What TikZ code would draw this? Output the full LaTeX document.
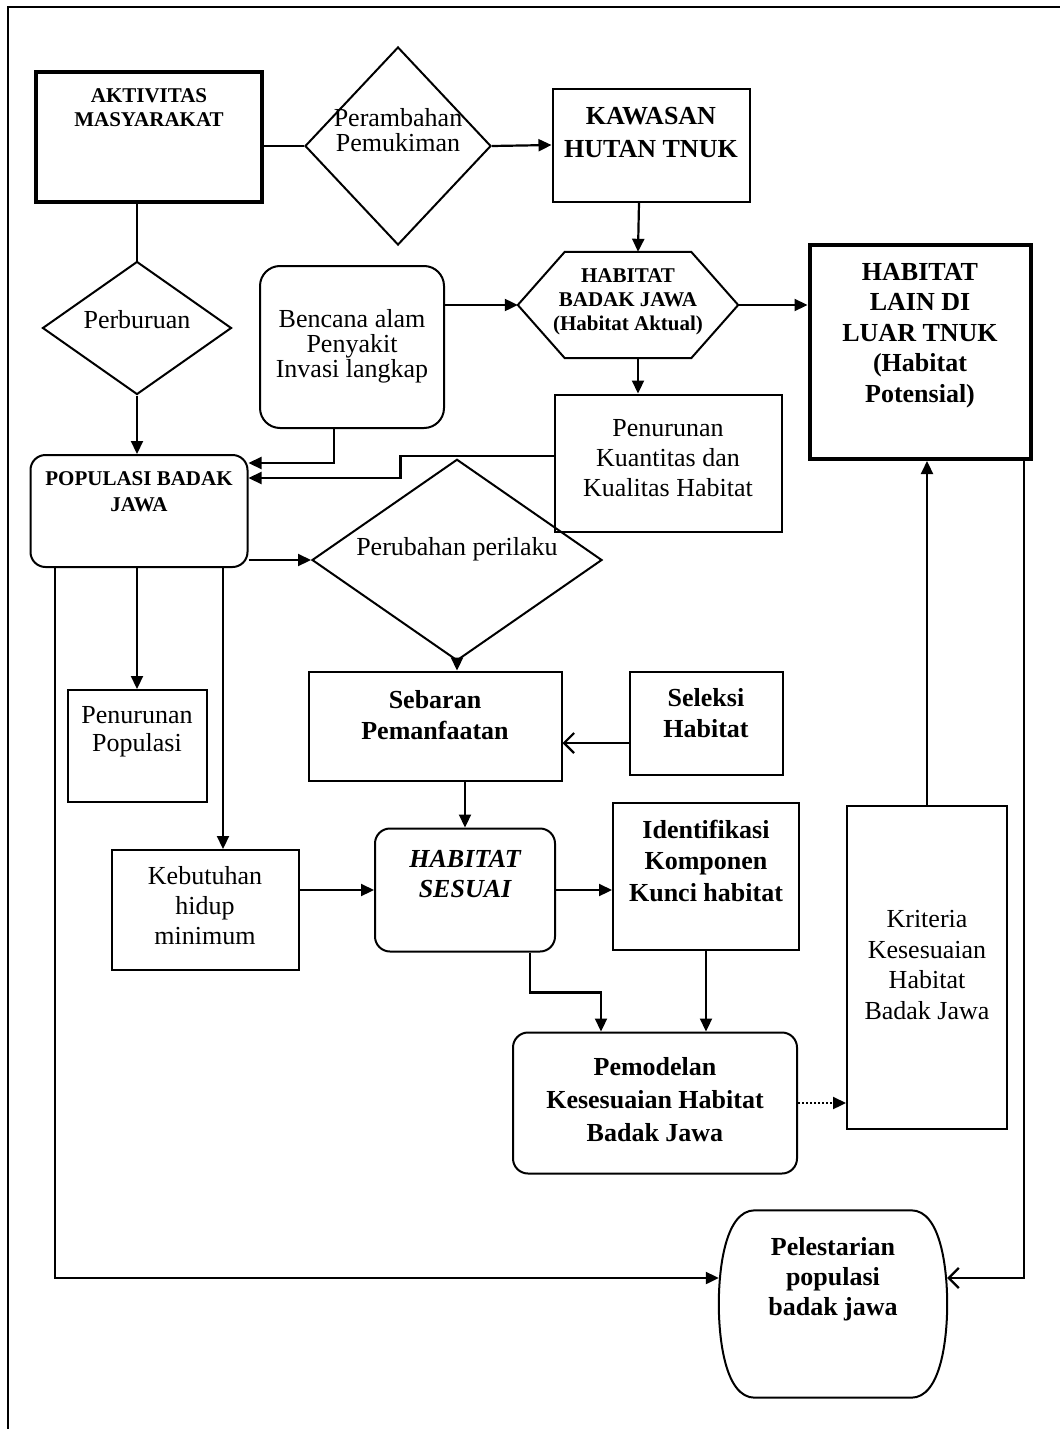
\documentclass[tikz,border=0pt]{standalone}
\usepackage{fontspec}
\setmainfont{Liberation Serif}
\usepackage{tikz}
\usetikzlibrary{shapes.geometric, arrows.meta}
\newcommand{\fs}[2]{\fontsize{#1}{#2}\selectfont}
\newcommand{\lns}[2]{\raisebox{\dimexpr #1-.25em\relax}[0pt][0pt]{\begin{tabular}{@{}c@{}}#2\end{tabular}}}
\tikzset{
  proc/.style={draw, rectangle, line width=2pt, inner sep=0pt, font=\fs{26}{30}},
  proc thick/.style={proc, line width=4pt},
  rproc/.style={proc, rounded corners=15pt},
  decision/.style={draw, diamond, line width=2pt, inner sep=0pt, font=\fs{26}{24}},
  plain/.style={rectangle, inner sep=0pt, font=\fs{26}{30}},
  garis/.style={line width=2.2pt},
  arr/.style={garis, -{Triangle[length=13pt,width=12pt]}},
  openarr/.style={garis, -{Straight Barb[length=10pt,width=20pt]}},
}
\begin{document}
\begin{tikzpicture}[x=1pt, y=-1pt]
\useasboundingbox (0,0) rectangle (1060,1429);
% frame
\draw[line width=2pt] (8,1429) -- (8,7) -- (1060,7);

% top row
\node[proc thick, minimum width=226pt, minimum height=130pt, font=\fs{21}{24}\bfseries] (aktiv) at (149,137) {\lns{27pt}{AKTIVITAS\\MASYARAKAT}};
\node[decision, minimum width=186pt, minimum height=198pt] (rambah) at (398,146) {\lns{13pt}{Perambahan\\Pemukiman}};
\node[proc, minimum width=197pt, minimum height=113pt, font=\fs{26}{33}\bfseries] (kawasan) at (651,145) {\lns{11pt}{KAWASAN\\HUTAN TNUK}};

% habitat aktual (hexagon)
\node[plain, minimum width=220pt, minimum height=106pt, font=\fs{21}{24}\bfseries] (aktual) at (628,305) {\lns{3pt}{HABITAT\\BADAK JAWA\\(Habitat Aktual)}};
\draw[line width=2pt] (aktual.west) -- ([xshift=47pt]aktual.north west) -- ([xshift=-47pt]aktual.north east)
  -- (aktual.east) -- ([xshift=-47pt]aktual.south east) -- ([xshift=47pt]aktual.south west) -- cycle;
\node[proc thick, minimum width=221pt, minimum height=214pt, font=\fs{26}{30.5}\bfseries] (potensial) at (920,352) {\lns{17pt}{HABITAT\\LAIN DI\\LUAR TNUK\\(Habitat\\Potensial)}};

\node[decision, minimum width=189pt, minimum height=133pt] (buru) at (137,328) {\lns{5pt}{Perburuan}};
\node[rproc, rounded corners=20pt, minimum width=184pt, minimum height=162pt, font=\fs{26}{24}] (bencana) at (352,347) {\lns{0pt}{Bencana alam\\Penyakit\\Invasi langkap}};
\node[proc, minimum width=227pt, minimum height=137pt] (kualitas) at (668,463) {\lns{3pt}{Penurunan\\Kuantitas dan\\Kualitas Habitat}};

% middle
\node[rproc, minimum width=217pt, minimum height=112pt, font=\fs{21}{26}\bfseries] (populasi) at (139,511) {\lns{18pt}{POPULASI BADAK\\JAWA}};
\node[decision, minimum width=290pt, minimum height=139pt] (perilaku) at (457,560) {\lns{10pt}{Perubahan perilaku}};
\node[proc, minimum width=253pt, minimum height=109pt, font=\fs{26}{31}\bfseries] (sebaran) at (435,726) {\lns{8pt}{Sebaran\\Pemanfaatan}};
\node[proc, minimum width=153pt, minimum height=103pt, font=\fs{26}{31}\bfseries] (seleksi) at (706,723) {\lns{7pt}{Seleksi\\Habitat}};
\node[proc, minimum width=139pt, minimum height=112pt, font=\fs{26}{28}] (penpop) at (137,746) {\lns{14pt}{Penurunan\\Populasi}};
\node[proc, minimum width=187pt, minimum height=120pt] (butuh) at (205,910) {\lns{2pt}{Kebutuhan\\hidup\\minimum}};
\node[rproc, minimum width=180pt, minimum height=123pt, font=\fs{26}{30}\bfseries\itshape] (sesuai) at (465,890) {\lns{14pt}{HABITAT\\SESUAI}};
\node[proc, minimum width=186pt, minimum height=147pt, font=\fs{26}{31.5}\bfseries] (kunci) at (706,876) {\lns{13pt}{Identifikasi\\Komponen\\Kunci habitat}};

% bottom
\node[rproc, minimum width=284pt, minimum height=141pt, font=\fs{26}{33}\bfseries] (model) at (655,1103) {\lns{1pt}{Pemodelan\\Kesesuaian Habitat\\Badak Jawa}};
\node[proc, minimum width=160pt, minimum height=323pt, font=\fs{26}{30.7}] (kriteria) at (927,967) {\lns{0pt}{Kriteria\\Kesesuaian\\Habitat\\Badak Jawa}};
\node[plain, minimum width=228pt, minimum height=187pt, font=\fs{26}{30}\bfseries] (lestari) at (833,1304) {\lns{25pt}{Pelestarian\\populasi\\badak jawa}};
\draw[line width=2pt] ([xshift=36pt]lestari.north west) -- ([xshift=-36pt]lestari.north east)
  .. controls ([xshift=-6pt]lestari.north east) and ([yshift=-60pt]lestari.north east) .. (lestari.east)
  .. controls ([yshift=60pt]lestari.south east) and ([xshift=-6pt]lestari.south east) .. ([xshift=-36pt]lestari.south east)
  -- ([xshift=36pt]lestari.south west)
  .. controls ([xshift=6pt]lestari.south west) and ([yshift=60pt]lestari.south west) .. (lestari.west)
  .. controls ([yshift=-60pt]lestari.north west) and ([xshift=6pt]lestari.north west) .. ([xshift=36pt]lestari.north west) -- cycle;

% connectors
\draw[garis] (rambah.west) -- (rambah.west -| aktiv.east);
\draw[arr] (rambah.east) -- (kawasan.west);
\draw[garis] (buru.north) -- (buru.north |- aktiv.south);
\draw[arr] (buru.south) -- (buru.south |- populasi.north);
\draw[arr] ([xshift=-12pt]kawasan.south) -- ([xshift=10pt]aktual.north);
\draw[arr] (bencana.east |- aktual.west) -- (aktual.west);
\draw[arr] (aktual.east) -- (aktual.east -| potensial.west);
\draw[arr] ([xshift=10pt]aktual.south) -- ([xshift=10pt]aktual.south |- kualitas.north);
\draw[arr] ([xshift=-18pt]bencana.south) |- ([yshift=48pt]populasi.east);
\draw[arr] ([yshift=7pt]kualitas.west) -- ++(-153,0) |- ([yshift=33pt]populasi.east);
\draw[arr] (perilaku.west -| populasi.east) -- (perilaku.west);
\draw[arr] (perilaku.south) -- (perilaku.south |- sebaran.north);
\draw[openarr] ([yshift=-20pt]seleksi.west) -- ([yshift=-20pt]seleksi.west -| sebaran.east);
\draw[arr] (penpop.north |- populasi.south) -- (penpop.north);
\draw[arr] ([xshift=18pt]butuh.north |- populasi.south) -- ([xshift=18pt]butuh.north);
\draw[arr] ([xshift=-84pt]populasi.south) |- ([yshift=26pt]lestari.west);
\draw[arr] (butuh.east |- sesuai.west) -- (sesuai.west);
\draw[arr] (sesuai.north |- sebaran.south) -- (sesuai.north);
\draw[arr] (sesuai.east) -- (sesuai.east -| kunci.west);
\draw[arr] ([xshift=65pt]sesuai.south) -- ++(0,40) -| ([xshift=-54pt]model.north);
\draw[arr] (kunci.south) -- (kunci.south |- model.north);
\draw[arr, dash pattern=on 2pt off 2pt] (model.east) -- (model.east -| kriteria.west);
\draw[arr] (kriteria.north) -- (kriteria.north |- potensial.south);
\draw[openarr] ([xshift=104pt]potensial.south) |- ([yshift=26pt]lestari.east);
\end{tikzpicture}
\end{document}
